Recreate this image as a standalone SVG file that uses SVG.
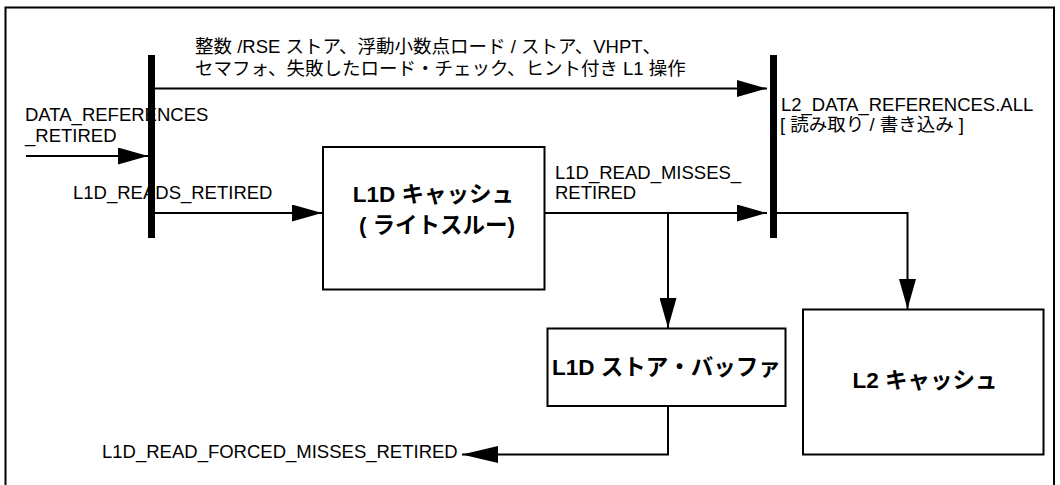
<svg xmlns="http://www.w3.org/2000/svg" width="1060" height="485" viewBox="0 0 1060 485">
<style>
.lbl{font-family:"Liberation Sans","Noto Sans CJK JP",sans-serif;font-size:18.5px;fill:#000}
.bold{font-family:"Liberation Sans","Noto Sans CJK JP",sans-serif;font-size:22.5px;font-weight:bold;fill:#000}
.box{fill:#fff;stroke:#000;stroke-width:2}
.bar{fill:#000}
.con{fill:none;stroke:#000;stroke-width:2}
</style>
<defs>
<marker id="ah" markerUnits="userSpaceOnUse" markerWidth="30" markerHeight="17" refX="30" refY="8.5" orient="auto"><path d="M0,0 L30,8.5 L0,17 z" fill="#000"/></marker>
<marker id="ahl" markerUnits="userSpaceOnUse" markerWidth="36" markerHeight="17" refX="36" refY="8.5" orient="auto"><path d="M0,0 L36,8.5 L0,17 z" fill="#000"/></marker>
</defs>
<rect x="5.5" y="7.5" width="1048.5" height="490" fill="#fff" stroke="#000" stroke-width="2"/>
<g id="connectors">
<path class="con" d="M155,88.5 H767" marker-end="url(#ah)"/>
<path class="con" d="M26,156 H148" marker-end="url(#ah)"/>
<path class="con" d="M155,213 H322" marker-end="url(#ah)"/>
<path class="con" d="M544.5,213 H767" marker-end="url(#ah)"/>
<path class="con" d="M668,213 V328" marker-end="url(#ah)"/>
<path class="con" d="M777,213 H907.5 V309" marker-end="url(#ah)"/>
<path class="con" d="M668,406 V454.5 H462" marker-end="url(#ahl)"/>
</g>
<g id="bar-left"><rect class="bar" x="148" y="55" width="7" height="183"/></g>
<g id="bar-right"><rect class="bar" x="770" y="55" width="7" height="183"/></g>
<g id="l1d-cache">
<rect class="box" x="323" y="147" width="221.5" height="142.5"/>
<text class="bold" x="433.5" y="201.5" text-anchor="middle">L1D キャッシュ</text>
<text class="bold" x="437" y="233" text-anchor="middle">( ライトスルー)</text>
</g>
<g id="l1d-store-buffer">
<rect class="box" x="547.5" y="328.5" width="238" height="77.5"/>
<text class="bold" x="666.5" y="375" text-anchor="middle">L1D ストア・バッファ</text>
</g>
<g id="l2-cache">
<rect class="box" x="803" y="309.5" width="240.5" height="145"/>
<text class="bold" x="925" y="388" text-anchor="middle">L2 キャッシュ</text>
</g>
<g id="labels">
<text class="lbl" x="195" y="53">整数 /RSE ストア、浮動小数点ロード / ストア、VHPT、</text>
<text class="lbl" x="195" y="74.5">セマフォ、失敗したロード・チェック、ヒント付き L1 操作</text>
<text class="lbl" x="25" y="120.5">DATA_REFERENCES</text>
<text class="lbl" x="25" y="142">_RETIRED</text>
<text class="lbl" x="73" y="199">L1D_READS_RETIRED</text>
<text class="lbl" x="555" y="179">L1D_READ_MISSES_</text>
<text class="lbl" x="555" y="199">RETIRED</text>
<text class="lbl" x="781" y="111">L2_DATA_REFERENCES.ALL</text>
<text class="lbl" x="780" y="131">[ 読み取り / 書き込み ]</text>
<text class="lbl" x="102" y="458">L1D_READ_FORCED_MISSES_RETIRED</text>
</g>
</svg>
